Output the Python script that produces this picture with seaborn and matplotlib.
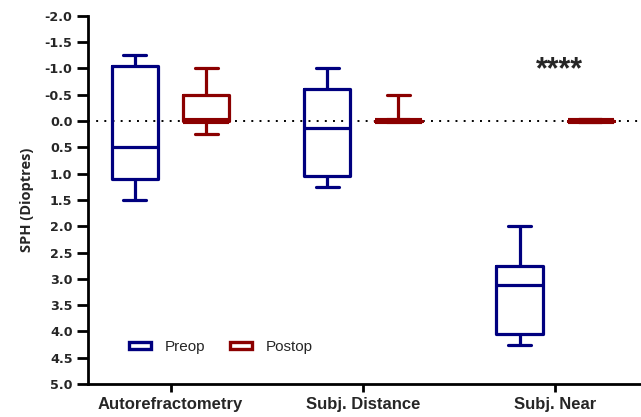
import matplotlib
matplotlib.use("Agg")
import matplotlib.pyplot as plt
import seaborn as sns
import pandas as pd
from matplotlib.patches import Patch

categories = ["Autorefractometry", "Subj. Distance", "Subj. Near"]
groups = ["Preop", "Postop"]
# five-number summaries (min, Q1, median, Q3, max)
preop_auto = [-1.25, -1.05, 0.5, 1.1, 1.5]
postop_auto = [-1.0, -0.5, 0.0, 0.0, 0.25]
preop_dist = [-1.0, -0.6, 0.125, 1.05, 1.25]
postop_dist = [-0.5, 0.0, 0.0, 0.0, 0.0]
preop_near = [2.0, 2.75, 3.125, 4.05, 4.25]
postop_near = [0.0, 0.0, 0.0, 0.0, 0.0]
yticks = [-2.0, -1.5, -1.0, -0.5, 0.0, 0.5, 1.0, 1.5, 2.0, 2.5, 3.0, 3.5, 4.0, 4.5, 5.0]

rows = []
for cat, pre, post in zip(categories,
                          [preop_auto, preop_dist, preop_near],
                          [postop_auto, postop_dist, postop_near]):
    for v in pre:
        rows.append((cat, "Preop", v))
    for v in post:
        rows.append((cat, "Postop", v))
df = pd.DataFrame(rows, columns=["cat", "group", "val"])

sns.set_style("white")
plt.rcParams["font.family"] = ["Liberation Sans", "DejaVu Sans"]

navy = "#00007f"
red = "#8b0000"
fig = plt.figure(figsize=(6.41, 4.17), dpi=100)
ax = fig.add_axes([0.137, 0.079, 0.861, 0.883])

ax.axhline(0, color="black", linestyle=(0, (1, 3.2)), linewidth=1.4, zorder=0)

sns.boxplot(data=df, x="cat", y="val", hue="group", order=categories,
            hue_order=groups, palette=[navy, red], fill=False,
            whis=(0, 100), width=0.74, gap=0.35, linewidth=2.3,
            showfliers=False, legend=False, ax=ax)

# postop medians coincide with the box edge at 0 -> thicker bar as in reference
for ln in ax.lines:
    c = matplotlib.colors.to_hex(ln.get_color())
    yd = list(ln.get_ydata())
    if c == red and len(yd) == 2 and all(abs(v) < 1e-9 for v in yd):
        ln.set_linewidth(4.4)

ax.set_ylim(5.0, -2.0)
ax.set_xlim(-0.43, 2.44)
ax.set_yticks(yticks)
ax.set_yticklabels([f"{t:.1f}" for t in yticks], fontweight="bold", fontsize=9.2,
                   family="DejaVu Sans")
ax.set_xticks(range(len(categories)))
ax.set_xticklabels(categories, fontweight="bold", fontsize=12)
ax.set_xlabel("")
ax.set_ylabel("SPH (Dioptres)", fontweight="bold", fontsize=10.5, labelpad=8,
              family=["Open Sans", "DejaVu Sans"])
for s in ["top", "right"]:
    ax.spines[s].set_visible(False)
for s in ["left", "bottom"]:
    ax.spines[s].set_linewidth(2)
    ax.spines[s].set_color("black")
ax.tick_params(axis="y", direction="out", length=8, width=2, color="black",
               left=True, pad=3)
ax.tick_params(axis="x", direction="out", length=6, width=2, color="black",
               bottom=True, pad=3)

ax.text(2.02, -0.97, "****", ha="center", va="center", fontsize=22, fontweight="bold")

handles = [Patch(facecolor="white", edgecolor=navy, linewidth=2.4, label="Preop"),
           Patch(facecolor="white", edgecolor=red, linewidth=2.4, label="Postop")]
ax.legend(handles=handles, loc="lower left", bbox_to_anchor=(0.05, 0.045), ncol=2,
          frameon=False, fontsize=11, handlelength=1.45, handleheight=0.35,
          columnspacing=1.6, handletextpad=0.9)

fig.savefig("out.png", dpi=100)
